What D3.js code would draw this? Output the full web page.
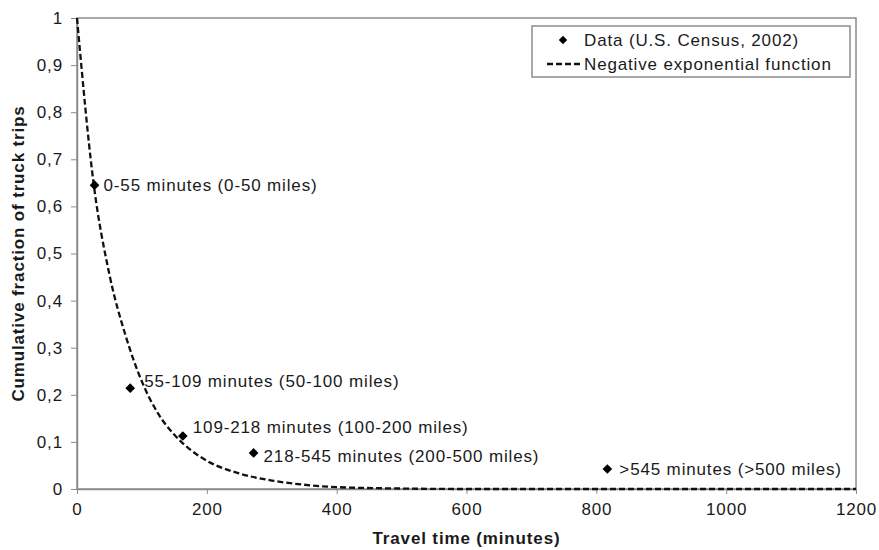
<!DOCTYPE html>
<html>
<head>
<meta charset="utf-8">
<script src="https://cdn.jsdelivr.net/npm/d3@7"></script>
<style>
  body { margin: 0; background: #fff; }
  text { font-family: "Liberation Sans", Arial, sans-serif; fill: #1a1a1a; }
</style>
</head>
<body>
<div id="chart"></div>
<script>
// Data points (U.S. Census, 2002)
const dataMinutes = [27, 82, 163, 272, 817];
const dataFraction = [0.645, 0.214, 0.1125, 0.0765, 0.0425];
const dataLabels = [
  '0-55 minutes (0-50 miles)',
  '55-109 minutes (50-100 miles)',
  '109-218 minutes (100-200 miles)',
  '218-545 minutes (200-500 miles)',
  '>545 minutes (>500 miles)'
];

// Negative exponential curve
const curveMinutes = [0, 25, 50, 75, 100, 125, 150, 175, 200, 250, 300, 350, 400, 500, 600, 800, 1000, 1200];
const curveFraction = [1, 0.655, 0.455, 0.325, 0.228, 0.16, 0.115, 0.083, 0.06, 0.033, 0.018, 0.009, 0.004, 0.001, 0, 0, 0, 0];

const xTicks = [0, 200, 400, 600, 800, 1000, 1200];
const yTicks = [0, 0.1, 0.2, 0.3, 0.4, 0.5, 0.6, 0.7, 0.8, 0.9, 1];

const width = 879;
const height = 550;
const margin = {top: 18, right: 23, bottom: 61, left: 77};
const innerWidth = width - margin.left - margin.right;
const innerHeight = height - margin.top - margin.bottom;
const axisColor = '#8c8c8c';
const fontFamily = '"Liberation Sans", Arial, sans-serif';
const fontSize = '17px';
const spacing = '0.85px';
const dash = '6,3';

const xScale = d3.scaleLinear().domain([0, 1200]).range([0, innerWidth]);
const yScale = d3.scaleLinear().domain([0, 1]).range([innerHeight, 0]);

const svg = d3.select('#chart').append('svg')
    .attr('width', width)
    .attr('height', height);

const g = svg.append('g')
    .attr('transform', `translate(${margin.left},${margin.top})`);

// frame
g.append('rect')
    .attr('width', innerWidth)
    .attr('height', innerHeight)
    .attr('fill', 'none')
    .attr('stroke', axisColor)
    .attr('stroke-width', 1.5);

// axes
const xAxis = g.append('g')
    .attr('transform', `translate(0,${innerHeight})`)
    .call(d3.axisBottom(xScale).tickValues(xTicks).tickSize(5).tickSizeOuter(0).tickPadding(9)
        .tickFormat(d3.format('d')));

const yAxis = g.append('g')
    .call(d3.axisLeft(yScale).tickValues(yTicks).tickSize(6).tickSizeOuter(0).tickPadding(8)
        .tickFormat(d => String(d).replace('.', ',')));

[xAxis, yAxis].forEach(ax => {
  ax.select('.domain').attr('stroke', axisColor).attr('stroke-width', 1.5);
  ax.selectAll('.tick line').attr('stroke', axisColor);
  ax.selectAll('.tick text')
      .style('font-size', fontSize)
      .style('letter-spacing', spacing)
      .style('font-family', fontFamily)
      .attr('fill', '#1a1a1a');
});

// curve
const curvePoints = curveMinutes.map((m, i) => [m, curveFraction[i]]);
g.append('path')
    .datum(curvePoints)
    .attr('fill', 'none')
    .attr('stroke', '#111')
    .attr('stroke-width', 2.3)
    .attr('stroke-dasharray', dash)
    .attr('d', d3.line()
        .x(d => xScale(d[0]))
        .y(d => yScale(d[1]))
        .curve(d3.curveMonotoneX));

// points
const points = dataMinutes.map((m, i) => ({m: m, f: dataFraction[i], label: dataLabels[i]}));
const diamond = d3.symbol().type(d3.symbolDiamond2).size(60);

g.selectAll('.pt')
    .data(points)
    .enter()
    .append('path')
    .attr('class', 'pt')
    .attr('d', diamond)
    .attr('transform', d => `translate(${xScale(d.m)},${yScale(d.f)})`)
    .attr('fill', '#000');

// label offsets
const labelDx = [9, 14, 10, 10, 12];
const labelDy = [0, -7, -9, 3, 0];

g.selectAll('.lbl')
    .data(points)
    .enter()
    .append('text')
    .attr('class', 'lbl')
    .attr('x', (d, i) => xScale(d.m) + labelDx[i])
    .attr('y', (d, i) => yScale(d.f) + labelDy[i])
    .attr('dy', '0.35em')
    .style('font-size', fontSize)
    .style('letter-spacing', spacing)
    .text(d => d.label);

// legend
const legend = g.append('g')
    .attr('transform', `translate(${innerWidth - 324},8)`);

legend.append('rect')
    .attr('width', 318)
    .attr('height', 51)
    .attr('fill', '#fff')
    .attr('stroke', axisColor)
    .attr('stroke-width', 1.5);

legend.append('path')
    .attr('d', d3.symbol().type(d3.symbolDiamond2).size(45))
    .attr('transform', 'translate(31,14)')
    .attr('fill', '#000');

legend.append('text')
    .attr('x', 52)
    .attr('y', 14)
    .attr('dy', '0.35em')
    .style('font-size', fontSize)
    .style('letter-spacing', spacing)
    .text('Data (U.S. Census, 2002)');

legend.append('line')
    .attr('x1', 15)
    .attr('x2', 50)
    .attr('y1', 38)
    .attr('y2', 38)
    .attr('stroke', '#111')
    .attr('stroke-width', 2.3)
    .attr('stroke-dasharray', dash);

legend.append('text')
    .attr('x', 52)
    .attr('y', 38)
    .attr('dy', '0.35em')
    .style('font-size', fontSize)
    .style('letter-spacing', spacing)
    .text('Negative exponential function');

// axis titles
svg.append('text')
    .attr('x', margin.left + innerWidth / 2)
    .attr('y', 544)
    .attr('text-anchor', 'middle')
    .style('font-size', fontSize)
    .style('letter-spacing', spacing)
    .style('font-weight', 'bold')
    .text('Travel time (minutes)');

svg.append('text')
    .attr('transform', `translate(24,${margin.top + innerHeight / 2}) rotate(-90)`)
    .attr('text-anchor', 'middle')
    .style('font-size', fontSize)
    .style('letter-spacing', spacing)
    .style('font-weight', 'bold')
    .text('Cumulative fraction of truck trips');
</script>
</body>
</html>
